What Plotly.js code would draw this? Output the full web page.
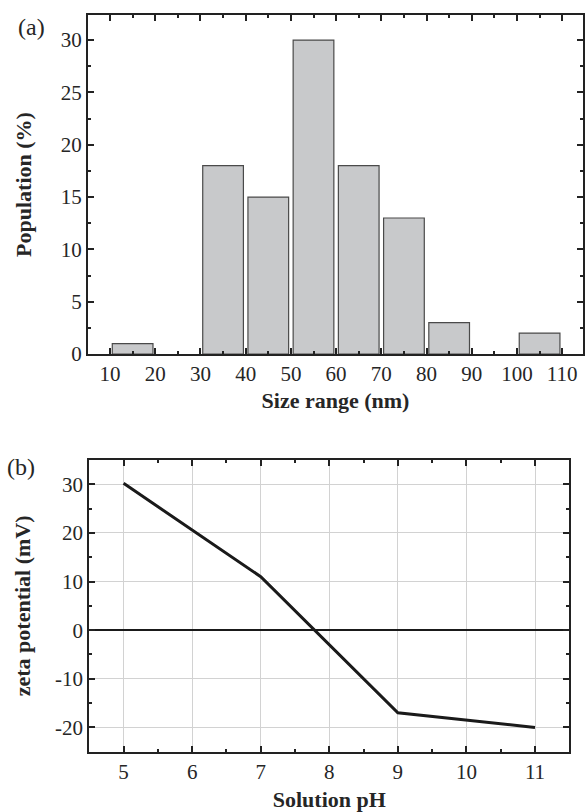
<!DOCTYPE html>
<html>
<head>
<meta charset="utf-8">
<script src="https://cdn.plot.ly/plotly-3.0.1.min.js"></script>
<style>html,body{margin:0;padding:0;background:#fff;}#chart{width:585px;height:812px;}</style>
</head>
<body>
<div id="chart"></div>
<script>
// Panel (a): size distribution
const binCenters = [15, 35, 45, 55, 65, 75, 85, 105];
const population = [1, 18, 15, 30, 18, 13, 3, 2];
const sizeTicks = [10, 20, 30, 40, 50, 60, 70, 80, 90, 100, 110];
const popTicks = [0, 5, 10, 15, 20, 25, 30];
// Panel (b): zeta potential
const pH = [5, 7, 9, 11];
const zeta = [30.2, 11, -17, -20];
const pHTicks = [5, 6, 7, 8, 9, 10, 11];
const zetaTicks = [-20, -10, 0, 10, 20, 30];

const FONT = "'Liberation Serif', 'Times New Roman', Times, serif";
const TXT = "#262626";
const W = 585, H = 812;
const TICK_SIZE = 21, TITLE_SIZE = 22;

const axBase = {
  showline: true, linecolor: "#222", linewidth: 2, mirror: "allticks",
  ticks: "inside", ticklen: 6, tickwidth: 2, tickcolor: "#222",
  tickfont: {family: FONT, size: TICK_SIZE, color: TXT},
  showgrid: false, zeroline: false, tickmode: "array"
};

const data = [
  {
    type: "bar", x: binCenters, y: population, width: 9,
    marker: {color: "#c8c9cb", line: {color: "#4a4a4a", width: 1.2}},
    xaxis: "x", yaxis: "y", hoverinfo: "skip"
  },
  {
    type: "scatter", mode: "lines", x: pH, y: zeta,
    line: {color: "#1a1a1a", width: 3},
    xaxis: "x2", yaxis: "y2", hoverinfo: "skip"
  }
];

const layout = {
  width: W, height: H,
  margin: {l: 0, r: 0, t: 0, b: 0},
  paper_bgcolor: "#fff", plot_bgcolor: "#fff",
  showlegend: false,
  font: {family: FONT, color: TXT},
  xaxis: Object.assign({}, axBase, {
    domain: [88 / W, 583 / W], anchor: "y",
    range: [5.13, 114.6], tickvals: sizeTicks, ticktext: sizeTicks.map(String),
    minor: {ticks: "inside", ticklen: 3, tickwidth: 2, tickcolor: "#222", dtick: 5, tick0: 5},
    title: {text: "<b>Size range (nm)</b>", font: {family: FONT, size: TITLE_SIZE, color: TXT}, standoff: 7}
  }),
  yaxis: Object.assign({}, axBase, {
    domain: [1 - 354 / H, 1 - 15 / H], anchor: "x",
    range: [0, 32.4], tickvals: popTicks, ticktext: popTicks.map(String),
    minor: {ticks: "inside", ticklen: 3, tickwidth: 2, tickcolor: "#222", dtick: 2.5, tick0: 0},
    title: {text: "<b>Population (%)</b>", font: {family: FONT, size: TITLE_SIZE, color: TXT}, standoff: 23}
  }),
  xaxis2: Object.assign({}, axBase, {
    domain: [89.3 / W, 569.3 / W], anchor: "y2",
    range: [4.5, 11.5], tickvals: pHTicks, ticktext: pHTicks.map(String),
    showgrid: true, gridcolor: "#d2d2d2", gridwidth: 1,
    minor: {ticks: "inside", ticklen: 3, tickwidth: 2, tickcolor: "#222", dtick: 0.5, tick0: 4.5},
    title: {text: "<b>Solution pH</b>", font: {family: FONT, size: TITLE_SIZE, color: TXT}, standoff: 13}
  }),
  yaxis2: Object.assign({}, axBase, {
    domain: [1 - 751.7 / H, 1 - 460 / H], anchor: "x2",
    range: [-25, 35], tickvals: zetaTicks, ticktext: zetaTicks.map(String),
    showgrid: true, gridcolor: "#d2d2d2", gridwidth: 1,
    zeroline: true, zerolinecolor: "#1a1a1a", zerolinewidth: 1.5,
    minor: {ticks: "inside", ticklen: 3, tickwidth: 2, tickcolor: "#222", dtick: 5, tick0: 0},
    title: {text: "<b>zeta potential (mV)</b>", font: {family: FONT, size: TITLE_SIZE, color: TXT}, standoff: 18}
  }),
  annotations: [
    {text: "(a)", xref: "paper", yref: "paper", x: 31 / W, y: 1 - 27 / H,
     xanchor: "center", yanchor: "middle", showarrow: false,
     font: {family: FONT, size: 24, color: TXT}},
    {text: "(b)", xref: "paper", yref: "paper", x: 21 / W, y: 1 - 467 / H,
     xanchor: "center", yanchor: "middle", showarrow: false,
     font: {family: FONT, size: 24, color: TXT}}
  ]
};

Plotly.newPlot("chart", data, layout, {staticPlot: true, displayModeBar: false});
</script>
</body>
</html>
